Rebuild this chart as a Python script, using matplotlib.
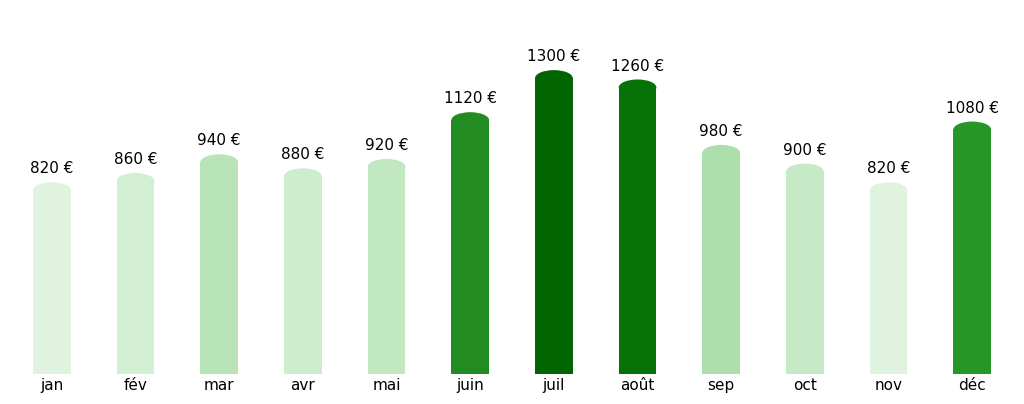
import matplotlib.pyplot as plt
from matplotlib.patches import Ellipse

months = ['jan', 'fév', 'mar', 'avr', 'mai', 'juin', 'juil', 'août', 'sep', 'oct', 'nov', 'déc']
values = [820, 860, 940, 880, 920, 1120, 1300, 1260, 980, 900, 820, 1080]
colors = ['#dff3df', '#d3efd3', '#b8e4b8', '#cdedcd', '#c1e8c1', '#228b22',
          '#006400', '#077207', '#acdfac', '#c6eac6', '#dff3df', '#269626']

fig = plt.figure(figsize=(10.24, 4.04), dpi=100)
ax = fig.add_axes([0.0098, 0.0743, 0.9805, 0.9257])

w = 0.45
cap = 34
for i, (v, c) in enumerate(zip(months and values, colors)):
    ax.bar(i, v - cap, width=w, color=c)
    ax.add_patch(Ellipse((i, v - cap), w, 2 * cap, color=c, lw=0))
    ax.text(i, v + 25, f'{v} €', ha='center', va='bottom', fontsize=11)

ax.set_xlim(-0.5, 11.5)
ax.set_ylim(0, 1600)
ax.set_xticks(range(len(months)))
ax.set_xticklabels(months, fontsize=11)
ax.tick_params(axis='x', length=0, pad=3)
ax.set_yticks([])
for s in ax.spines.values():
    s.set_visible(False)

fig.savefig('out.png')
